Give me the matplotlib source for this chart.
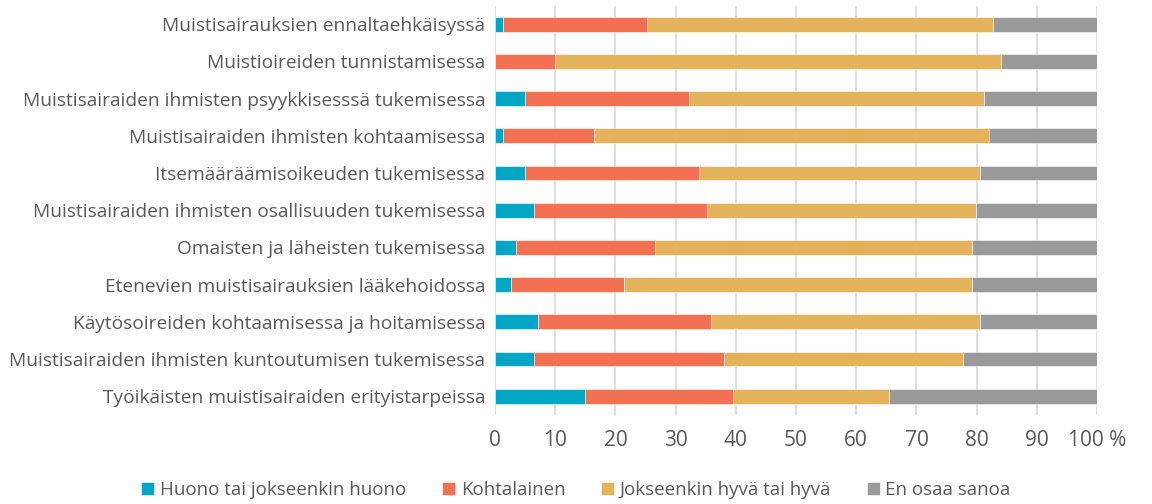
import numpy as np
import matplotlib
matplotlib.use('Agg')
import matplotlib.pyplot as plt

plt.rcParams['font.family'] = ['Open Sans', 'DejaVu Sans']

# ── Data ──────────────────────────────────────────────────────────────────────
categories = [
    "Muistisairauksien ennaltaehkäisyssä",
    "Muistioireiden tunnistamisessa",
    "Muistisairaiden ihmisten psyykkisesssä tukemisessa",
    "Muistisairaiden ihmisten kohtaamisessa",
    "Itsemääräämisoikeuden tukemisessa",
    "Muistisairaiden ihmisten osallisuuden tukemisessa",
    "Omaisten ja läheisten tukemisessa",
    "Etenevien muistisairauksien lääkehoidossa",
    "Käytösoireiden kohtaamisessa ja hoitamisessa",
    "Muistisairaiden ihmisten kuntoutumisen tukemisessa",
    "Työikäisten muistisairaiden erityistarpeissa",
]
huono       = [1.3, 0.0, 4.9, 1.3, 4.9, 6.4, 3.5, 2.7, 7.1, 6.4, 15.0]
kohtalainen = [23.9, 10.0, 27.3, 15.1, 28.9, 28.8, 23.1, 18.7, 28.8, 31.6, 24.6]
hyva        = [57.6, 74.1, 49.1, 65.6, 46.8, 44.7, 52.6, 57.8, 44.7, 39.8, 25.9]
en_osaa     = [17.2, 15.9, 18.7, 18.0, 19.4, 20.1, 20.8, 20.8, 19.4, 22.2, 34.5]

series = [
    ("Huono tai jokseenkin huono", huono, '#00A6C3'),
    ("Kohtalainen", kohtalainen, '#F37052'),
    ("Jokseenkin hyvä tai hyvä", hyva, '#E3B25A'),
    ("En osaa sanoa", en_osaa, '#9A9A9A'),
]
TXT = '#595959'

# ── Figure ────────────────────────────────────────────────────────────────────
fig = plt.figure(figsize=(11.52, 5.04), dpi=100)
ax = fig.add_axes([0.4297, 0.177, 0.5226, 0.812])

y = np.arange(len(categories))
left = np.zeros(len(categories))
for name, vals, col in series:
    vals = np.array(vals)
    ax.barh(y, vals, left=left, height=0.4, color=col, edgecolor='white',
            linewidth=0.4, label=name, zorder=3)
    left += vals

ax.set_ylim(len(categories) - 0.5, -0.5)
ax.set_xlim(0, 100)
ax.set_xticks(np.arange(0, 101, 10))
ax.set_xticklabels([str(v) for v in range(0, 100, 10)] + ["100 %"])
ax.set_yticks(y)
ax.set_yticklabels(categories)
ax.tick_params(axis='both', length=0, colors=TXT)
ax.tick_params(axis='y', pad=7, labelsize=13.8)
ax.tick_params(axis='x', pad=11, labelsize=15)
for s in ax.spines.values():
    s.set_visible(False)
ax.grid(axis='x', color='#D9D9D9', lw=1.2, zorder=0)

fig.legend(loc='center', bbox_to_anchor=(0.5, 0.027), ncol=4, frameon=False,
           fontsize=13.5, handlelength=0.7, handleheight=0.7, handletextpad=0.3,
           columnspacing=1.9, labelcolor=TXT)

fig.savefig('out.png', dpi=100)
